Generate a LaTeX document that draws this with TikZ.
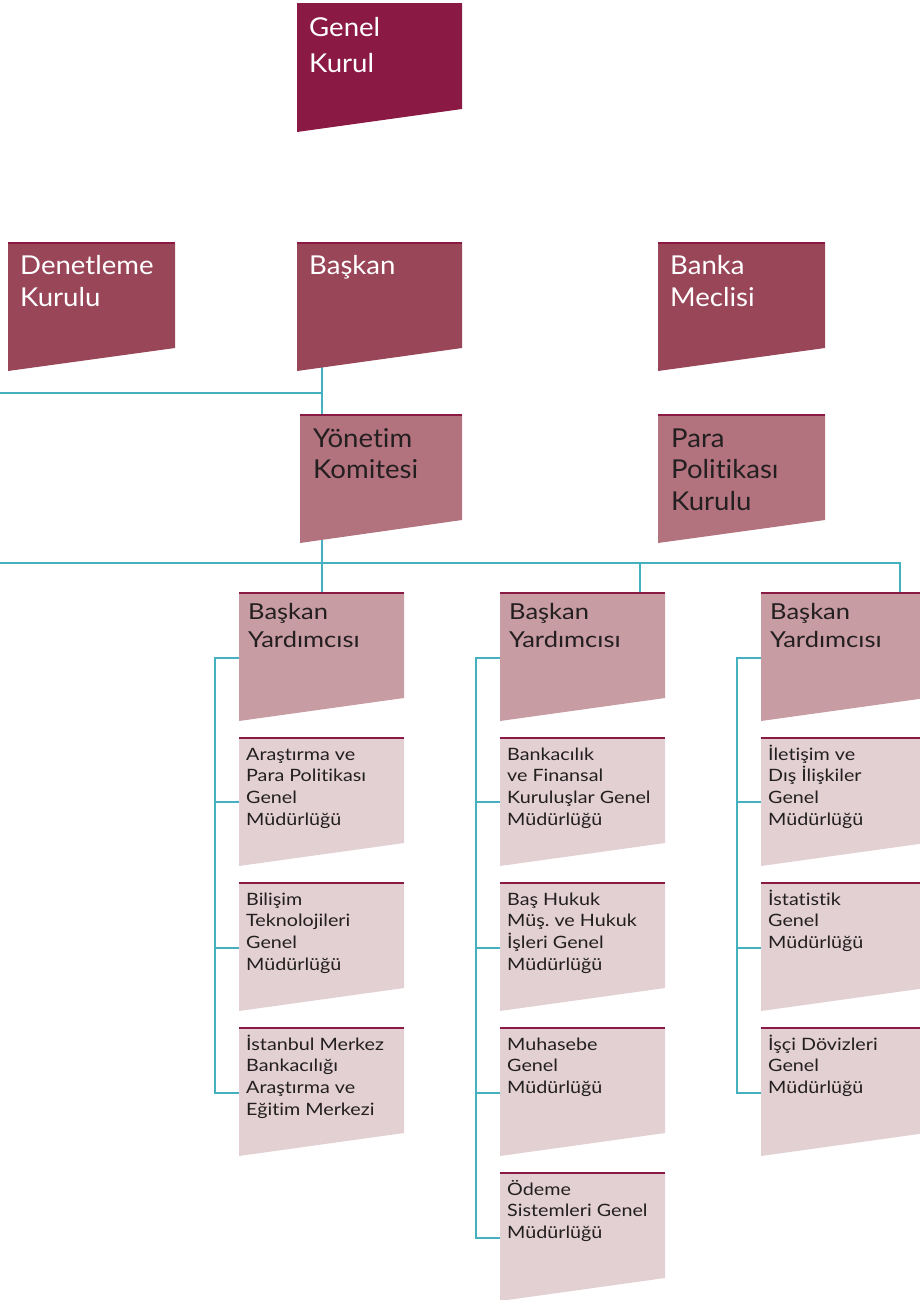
\documentclass[tikz,border=0pt]{standalone}
\usepackage{fontspec}
\setmainfont{Lato}[Ligatures=NoCommon, FakeStretch=1.06]
\newfontfamily\smallf{Lato}[Ligatures=NoCommon, FakeStretch=1.16]
\frenchspacing
\usetikzlibrary{calc,backgrounds}
\definecolor{cGK}{HTML}{8A1A44}
\definecolor{cRtwo}{HTML}{994659}
\definecolor{cYK}{HTML}{B3737E}
\definecolor{cBY}{HTML}{C89CA3}
\definecolor{cSub}{HTML}{E2D0D3}
\definecolor{cEdge}{HTML}{8A1A44}
\definecolor{cLine}{HTML}{45B0C0}
\definecolor{cTxt}{HTML}{231F20}
\tikzset{
  frame/.style={rectangle, anchor=north west, inner sep=0pt, outer sep=0pt, minimum width=165pt, minimum height=128pt},
  link/.style={draw=cLine, line width=1.4pt},
  topedge/.style={draw=cEdge, line width=1.6pt},
  tbase/.style={anchor=north west, inner sep=0pt, align=left},
  tgk/.style={tbase, text=white, xshift=12pt, yshift=-6pt, font=\fontsize{26}{36.5}\selectfont},
  trow/.style={tbase, text=white, xshift=12pt, yshift=-5pt, font=\fontsize{26}{32}\selectfont},
  tyk/.style={tbase, text=cTxt, xshift=13pt, yshift=-6pt, font=\fontsize{26}{31.5}\selectfont},
  tby/.style={tbase, text=cTxt, xshift=9pt, yshift=-4pt, font=\smallf\fontsize{22}{28.5}\selectfont},
  tsub/.style={tbase, text=cTxt, xshift=7pt, yshift=-5pt, font=\smallf\fontsize{17}{21.6}\selectfont}
}
\newcommand\obox[7]{%
  \node[frame, minimum width=#4pt] (#1) at (#2,#3) {};
  \fill[#5] (#1.north west) -- (#1.north east) -- ([yshift=23pt]#1.south east) -- (#1.south west) -- cycle;
  \draw[topedge] (#1.north west) -- (#1.north east);
  \node[#6] (#1-t) at (#1.north west) {\rule{0pt}{1em}#7};
}
\begin{document}
\begin{tikzpicture}[x=1pt,y=-1pt]
\useasboundingbox (0,0) rectangle (920,1300);
% top levels
\obox{gk}{297}{4}{165}{cGK}{tgk}{Genel\\Kurul}
\obox{den}{8}{243}{167}{cRtwo}{trow}{Denetleme\\Kurulu}
\obox{baskan}{297}{243}{165}{cRtwo}{trow}{Başkan}
\obox{banka}{658}{243}{167}{cRtwo}{trow}{Banka\\Meclisi}
\obox{yk}{300}{415}{162}{cYK}{tyk}{Yönetim\\Komitesi}
\obox{ppk}{658}{415}{167}{cYK}{tyk}{Para\\Politikası\\Kurulu}
% vice presidents
\obox{by1}{239}{593}{165}{cBY}{tby}{Başkan\\Yardımcısı}
\obox{by2}{500}{593}{165}{cBY}{tby}{Başkan\\Yardımcısı}
\obox{by3}{761}{593}{165}{cBY}{tby}{Başkan\\Yardımcısı}
% column 1
\obox{sa}{239}{738}{165}{cSub}{tsub}{Araştırma ve\\Para Politikası\\Genel\\Müdürlüğü}
\obox{sb}{239}{883}{165}{cSub}{tsub}{Bilişim\\Teknolojileri\\Genel\\Müdürlüğü}
\obox{sc}{239}{1028}{165}{cSub}{tsub}{İstanbul Merkez\\Bankacılığı\\Araştırma ve\\Eğitim Merkezi}
% column 2
\obox{sd}{500}{738}{165}{cSub}{tsub}{Bankacılık\\ve Finansal\\Kuruluşlar Genel\\Müdürlüğü}
\obox{se}{500}{883}{165}{cSub}{tsub}{Baş Hukuk\\Müş. ve Hukuk\\İşleri Genel\\Müdürlüğü}
\obox{sf}{500}{1028}{165}{cSub}{tsub}{Muhasebe\\Genel\\Müdürlüğü}
\obox{sg}{500}{1173}{165}{cSub}{tsub}{Ödeme\\Sistemleri Genel\\Müdürlüğü}
% column 3
\obox{sh}{761}{738}{165}{cSub}{tsub}{İletişim ve\\Dış İlişkiler\\Genel\\Müdürlüğü}
\obox{si}{761}{883}{165}{cSub}{tsub}{İstatistik\\Genel\\Müdürlüğü}
\obox{sj}{761}{1028}{165}{cSub}{tsub}{İşçi Dövizleri\\Genel\\Müdürlüğü}
% connectors
\coordinate (edgeA) at (0,393);
\coordinate (edgeB) at (0,563);
\begin{pgfonlayer}{background}
\draw[link] ([xshift=25pt,yshift=12pt]baskan.south west) -- ([xshift=22pt]yk.north west);
\draw[link] (edgeA) -| ([xshift=25pt,yshift=12pt]baskan.south west);
\draw[link] ([xshift=22pt,yshift=12pt]yk.south west) -- ([xshift=83pt]by1.north west);
\draw[link] (edgeB) -| ([xshift=139pt]by3.north west);
\draw[link] ([xshift=140pt]by2.north west) -- ([xshift=140pt]by2.north west |- edgeB);
% column brackets
\draw[link] ([yshift=-65pt]by1.north west) -- ++(-24,0) |- ([yshift=-65pt]sc.north west);
\draw[link] ([yshift=-64pt]sa.north west) -- ++(-24,0);
\draw[link] ([yshift=-65pt]sb.north west) -- ++(-24,0);
\draw[link] ([yshift=-65pt]by2.north west) -- ++(-24,0) |- ([yshift=-65pt]sg.north west);
\draw[link] ([yshift=-64pt]sd.north west) -- ++(-24,0);
\draw[link] ([yshift=-65pt]se.north west) -- ++(-24,0);
\draw[link] ([yshift=-65pt]sf.north west) -- ++(-24,0);
\draw[link] ([yshift=-65pt]by3.north west) -- ++(-24,0) |- ([yshift=-65pt]sj.north west);
\draw[link] ([yshift=-64pt]sh.north west) -- ++(-24,0);
\draw[link] ([yshift=-65pt]si.north west) -- ++(-24,0);
\end{pgfonlayer}
\end{tikzpicture}
\end{document}
